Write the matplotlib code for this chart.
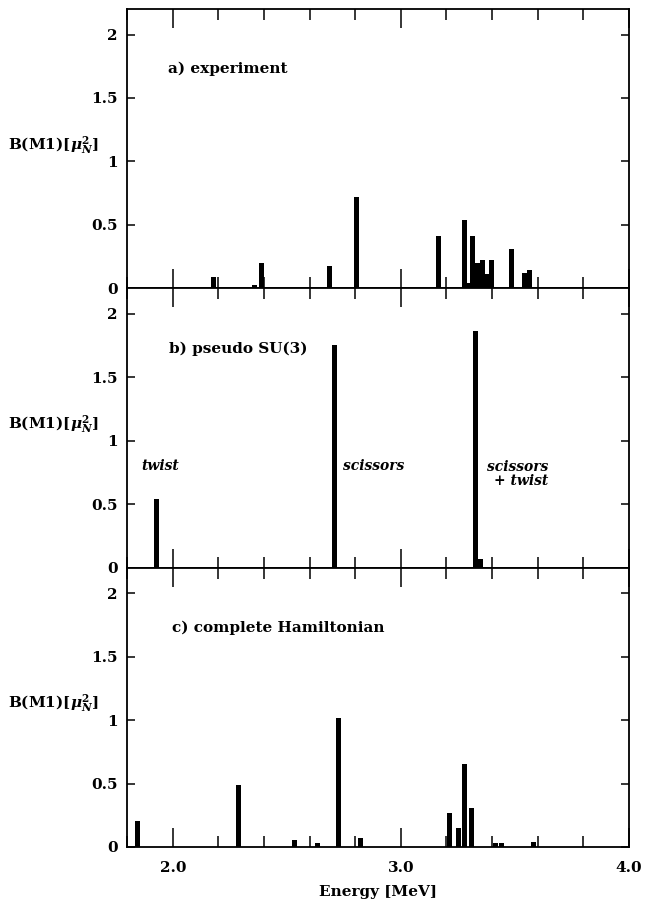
import matplotlib
matplotlib.use('Agg')
import matplotlib.pyplot as plt
from matplotlib.ticker import MultipleLocator, FixedLocator

# ---- data (energies in MeV, B(M1) in mu_N^2) ----
exp_E = [2.179, 2.359, 2.389, 2.689, 2.807, 3.010, 3.165, 3.277, 3.296, 3.316,
         3.336, 3.356, 3.376, 3.396, 3.486, 3.543, 3.566]
exp_B = [0.092, 0.026, 0.197, 0.174, 0.721, 0.013, 0.413, 0.540, 0.045, 0.413,
         0.197, 0.221, 0.110, 0.221, 0.308, 0.118, 0.142]

su3_E = [1.928, 2.711, 3.326, 3.348]
su3_B = [0.545, 1.758, 1.864, 0.066]

ham_E = [1.847, 2.287, 2.535, 2.636, 2.727, 2.822, 3.212, 3.254, 3.277, 3.309,
         3.416, 3.440, 3.583]
ham_B = [0.205, 0.490, 0.053, 0.034, 1.013, 0.068, 0.270, 0.150, 0.653, 0.310,
         0.034, 0.034, 0.040]

panel_titles = ['a) experiment', 'b) pseudo SU(3)', 'c) complete Hamiltonian']
ytick_vals = [0, 0.5, 1, 1.5, 2]
ytick_labels = ['0', '0.5', '1', '1.5', '2']
xtick_vals = [2.0, 3.0, 4.0]
xtick_labels = ['2.0', '3.0', '4.0']
ylabel_text = r'B(M1)[$\mu_N^2$]'
xlabel_text = 'Energy [MeV]'
note_texts = ['twist', 'scissors', 'scissors\n+ twist']
note_x = [1.944, 2.881, 3.645]

plt.rcParams['font.family'] = ['DejaVu Serif']
plt.rcParams['font.weight'] = 'bold'
plt.rcParams['mathtext.fontset'] = 'dejavuserif'

fig = plt.figure(figsize=(6.49, 9.13), dpi=100)
axs = fig.subplots(3, 1, sharex=True, gridspec_kw=dict(hspace=0))
fig.subplots_adjust(left=0.196, right=0.969, top=0.990, bottom=0.0723)

datasets = [(exp_E, exp_B), (su3_E, su3_B), (ham_E, ham_B)]
title_x = [0.082, 0.084, 0.090]
for ax, (E, B), title, tx in zip(axs, datasets, panel_titles, title_x):
    ax.bar(E, B, width=0.022, color='black', edgecolor='black', linewidth=0)
    ax.set_xlim(1.8, 4.0)
    ax.set_ylim(0, 2.2)
    ax.xaxis.set_major_locator(FixedLocator(xtick_vals))
    ax.xaxis.set_minor_locator(MultipleLocator(0.2))
    ax.set_yticks(ytick_vals)
    ax.set_yticklabels(ytick_labels, fontsize=11, fontweight='bold')
    ax.tick_params(axis='x', which='major', direction='in', top=True, bottom=True,
                   length=14, width=1.1, pad=10)
    ax.tick_params(axis='x', which='minor', direction='in', top=True, bottom=True,
                   length=8, width=1.1)
    ax.tick_params(axis='y', which='major', direction='in', left=True, right=True,
                   length=6, width=1.1, pad=7)
    for s in ax.spines.values():
        s.set_linewidth(1.3)
    ax.text(tx, 0.785, title, transform=ax.transAxes, fontsize=11,
            fontweight='bold', ha='left', va='center')
    ax.text(-0.058, 1.13, ylabel_text, transform=ax.get_yaxis_transform(),
            fontsize=11, fontweight='bold', ha='right', va='center')

axs[2].set_xticklabels(xtick_labels, fontsize=11, fontweight='bold')
axs[2].set_xlabel(xlabel_text, fontsize=11, fontweight='bold', labelpad=7)

axs[1].text(note_x[0], 0.80, note_texts[0], fontsize=10, fontweight='bold',
            style='italic', ha='center', va='center')
axs[1].text(note_x[1], 0.80, note_texts[1], fontsize=10, fontweight='bold',
            style='italic', ha='center', va='center')
axs[1].text(note_x[2], 0.85, note_texts[2], fontsize=10, fontweight='bold',
            style='italic', ha='right', va='top', multialignment='right',
            linespacing=1.0)

fig.savefig('out.png', dpi=100, facecolor='white')
